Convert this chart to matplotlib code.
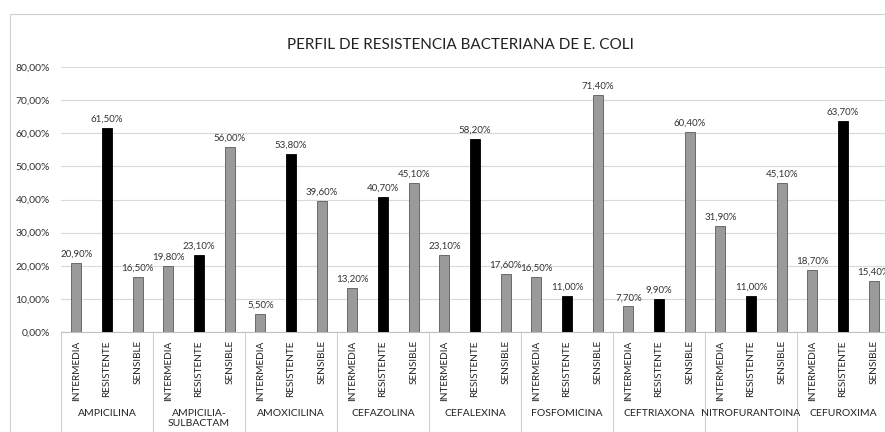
import matplotlib.pyplot as plt
import matplotlib.transforms as mtransforms
from matplotlib.patches import Rectangle

# datos
antibioticos = ["AMPICILINA", "AMPICILIA-\nSULBACTAM", "AMOXICILINA", "CEFAZOLINA",
                "CEFALEXINA", "FOSFOMICINA", "CEFTRIAXONA", "NITROFURANTOINA", "CEFUROXIMA"]
categorias = ["INTERMEDIA", "RESISTENTE", "SENSIBLE"]
intermedia = [20.9, 19.8, 5.5, 13.2, 23.1, 16.5, 7.7, 31.9, 18.7]
resistente = [61.5, 23.1, 53.8, 40.7, 58.2, 11.0, 9.9, 11.0, 63.7]
sensible = [16.5, 56.0, 39.6, 45.1, 17.6, 71.4, 60.4, 45.1, 15.4]
y_ticks = [0, 10, 20, 30, 40, 50, 60, 70, 80]

plt.rcParams['font.family'] = ['Lato', 'DejaVu Sans']

fig = plt.figure(figsize=(8.85, 4.32), dpi=100)
ax = fig.add_axes([61 / 885, 100 / 432, 828 / 885, 265 / 432])

# borde del área del gráfico
fig.patches.append(Rectangle((10 / 885, -0.1), 1.2, (432 - 14) / 432 + 0.1,
                             transform=fig.transFigure, fill=False,
                             edgecolor='#cfcfcf', linewidth=0.8))

series = [intermedia, resistente, sensible]
colores = ['#9a9a9a', '#000000', '#9a9a9a']
bordes = ['#5a5a5a', '#000000', '#5a5a5a']

n = len(antibioticos)
posiciones = []
etiquetas = []
for g in range(n):
    for k in range(3):
        x = g + (2 * k + 1) / 6
        v = series[k][g]
        ax.bar(x, v, width=0.11, color=colores[k], edgecolor=bordes[k], linewidth=0.6, zorder=3)
        ax.text(x, v + 1.3, f"{v:.2f}%".replace('.', ','), ha='center', va='bottom',
                fontsize=7, color='#333333')
        posiciones.append(x)
        etiquetas.append(categorias[k])

ax.set_xlim(0, n)
ax.set_ylim(0, 80)
ax.set_yticks(y_ticks)
ax.set_yticklabels([f"{t:.2f}%".replace('.', ',') for t in y_ticks], fontsize=7.5, color='#333333')
ax.yaxis.grid(True, color='#d9d9d9', linewidth=0.8)
ax.set_axisbelow(True)
ax.tick_params(axis='y', length=0, pad=8)

ax.set_xticks(posiciones)
ax.set_xticklabels(etiquetas, rotation=90, fontsize=7.2, color='#222222', va='top')
ax.tick_params(axis='x', length=0, pad=6)

for s in ['top', 'right', 'left']:
    ax.spines[s].set_visible(False)
ax.spines['bottom'].set_color('#bfbfbf')

trans = mtransforms.blended_transform_factory(ax.transData, ax.transAxes)
for g in range(n + 1):
    ax.plot([g, g], [0, -0.4], transform=trans, color='#cfcfcf', linewidth=0.8, clip_on=False)
for g in range(n):
    ax.text(g + 0.5, -0.292, antibioticos[g], transform=trans, ha='center', va='top',
            fontsize=7.5, color='#222222', linespacing=1.1)

fig.text(460 / 885, 1 - 45 / 432, "PERFIL DE RESISTENCIA BACTERIANA DE E. COLI",
         ha='center', va='center', fontsize=11, color='#222222')

fig.savefig("out.png", dpi=100)
